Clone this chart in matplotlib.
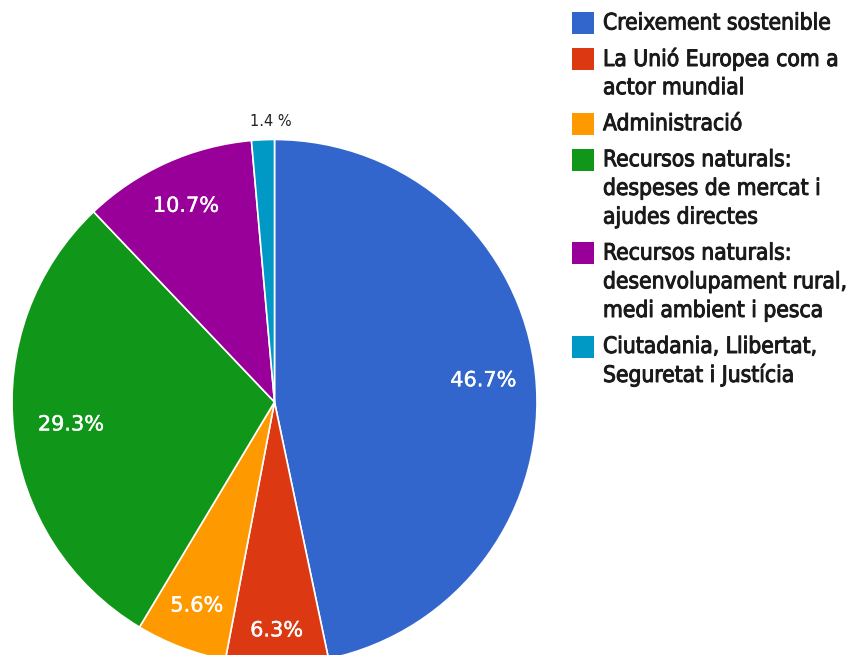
import matplotlib
matplotlib.use("Agg")
import matplotlib.pyplot as plt
import matplotlib.patheffects as pe
from matplotlib.patches import Rectangle
from matplotlib import font_manager
import numpy as np

labels = ["Creixement sostenible",
          "La Unió Europea com a\nactor mundial",
          "Administració",
          "Recursos naturals:\ndespeses de mercat i\najudes directes",
          "Recursos naturals:\ndesenvolupament rural,\nmedi ambient i pesca",
          "Ciutadania, Llibertat,\nSeguretat i Justícia"]
values = [46.7, 6.3, 5.6, 29.3, 10.7, 1.4]
pct_text = ["46.7%", "6.3%", "5.6%", "29.3%", "10.7%", "1.4 %"]
colors = ["#3366cc", "#dc3912", "#ff9900", "#109618", "#990099", "#0099c6"]

names = set(f.name for f in font_manager.fontManager.ttflist)

W, H = 851, 655
fig = plt.figure(figsize=(W / 100, H / 100), dpi=100)
ax = fig.add_axes([0, 0, 1, 1])
ax.set_xlim(0, W)
ax.set_ylim(0, H)
ax.axis("off")

cx, cy, r = 274.5, H - 402, 262.5
wedges, _ = ax.pie(values, colors=colors, startangle=90, counterclock=False,
                   center=(cx, cy), radius=r,
                   wedgeprops=dict(edgecolor="white", linewidth=1.2))
ax.set_xlim(0, W)
ax.set_ylim(0, H)

# label distance per slice (fraction of radius)
dist = [0.80, 0.87, 0.83, 0.78, 0.82, 1.07]
for w, txt, d in zip(wedges, pct_text, dist):
    ang = np.deg2rad((w.theta1 + w.theta2) / 2)
    x = cx + d * r * np.cos(ang)
    y = cy + d * r * np.sin(ang)
    if d > 1:
        ax.text(x + 9, y, txt, ha="center", va="center", fontsize=10.5, color="#222222")
    else:
        ax.text(x, y, txt, ha="center", va="center", fontsize=15, color="white",
                path_effects=[pe.withStroke(linewidth=0.3, foreground="white")])

# legend
cond = "DejaVu Sans Condensed" if "DejaVu Sans Condensed" in names else "DejaVu Sans"
y0 = 23
nlines = 0
for i, (lab, c) in enumerate(zip(labels, colors)):
    first = y0 + 28.7 * nlines + 7.3 * i
    ax.add_patch(Rectangle((572, H - first - 11), 22, 22, facecolor=c, edgecolor="none"))
    for j, line in enumerate(lab.split("\n")):
        ax.text(603, H - (first + 28.7 * j), line, ha="left", va="center",
                fontsize=16.3, family=cond, stretch="condensed", color="#1a1a1a",
                path_effects=[pe.withStroke(linewidth=0.7, foreground="#1a1a1a")])
    nlines += len(lab.split("\n"))

fig.savefig("out.png", dpi=100)
